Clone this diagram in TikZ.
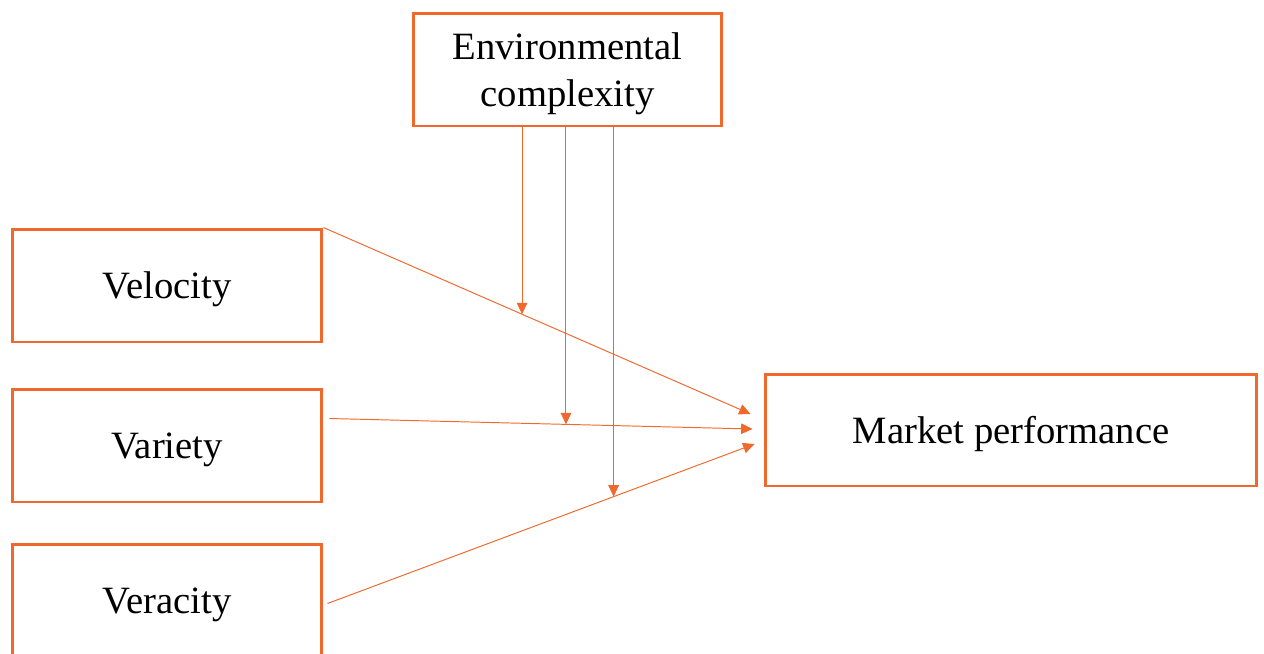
\documentclass[tikz,border=0pt]{standalone}
\usepackage{fontspec}
\setmainfont{Liberation Serif}
\usepackage{tikz}
\usetikzlibrary{arrows.meta,positioning,calc}
\definecolor{boxorange}{HTML}{F0682C}

\begin{document}
\begin{tikzpicture}[
        x=0.02cm, y=-0.02cm,
        every node/.style={font=\fontsize{22}{27}\selectfont},
        varbox/.style={draw=boxorange, line width=1.7pt, inner sep=0pt, align=center,
            text depth=0pt},
        path/.style={draw=boxorange, line width=0.55pt, -{Triangle[length=6.5pt, width=6pt]}}
    ]
    \useasboundingbox (0,0) rectangle (1264,653);

    % ============ boxes ============
    \node[varbox, minimum width=6.18cm, minimum height=2.26cm] (env) at (567.5,69.5)
    {Environmental\\complexity};
    \node[varbox, minimum width=6.2cm, minimum height=2.26cm] (vel) at (167,285.5) {Velocity};
    \node[varbox, minimum width=6.2cm, minimum height=2.26cm] (var) at (167,445.5) {Variety};
    \node[varbox, minimum width=6.2cm, minimum height=2.26cm] (ver) at (167,600.5) {Veracity};
    \node[varbox, minimum width=9.84cm, minimum height=2.24cm] (mkt) at (1011,430) {Market performance};

    % ============ main effects ============
    \coordinate (in1) at ($(mkt.west)+(-13,-16)$);
    \coordinate (in2) at ($(mkt.west)+(-11,-1)$);
    \coordinate (in3) at ($(mkt.west)+(-9,14)$);
    \coordinate (out2) at ($(var.east)+(6,-27)$);
    \coordinate (out3) at ($(ver.east)+(4,3)$);
    \draw[path] (vel.north east) -- (in1) coordinate[pos=0.465] (m1);
    \draw[path] (out2) -- (in2) coordinate[pos=0.559] (m2);
    \draw[path] (out3) -- (in3) coordinate[pos=0.670] (m3);

    % ============ moderation ============
    \foreach \m in {m1,m2,m3}
    \draw[path] (env.south -| \m) -- (\m);
\end{tikzpicture}
\end{document}
